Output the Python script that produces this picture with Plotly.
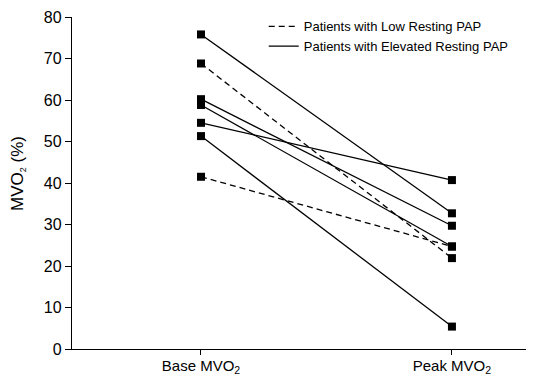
import plotly.graph_objects as go

categories = ["Base MVO<sub>2</sub>", "Peak MVO<sub>2</sub>"]
low_pap = [[68.8, 21.9], [41.5, 24.7]]
elevated_pap = [[75.8, 32.7], [60.2, 29.7], [58.8, 24.7], [54.5, 40.7], [51.3, 5.4]]
legend_names = ["Patients with Low Resting PAP", "Patients with Elevated Resting PAP"]
y_ticks = [0, 10, 20, 30, 40, 50, 60, 70, 80]
y_title = "MVO<sub><span style='font-size:9px'>2</span></sub> (%)"

fig = go.Figure()
for vals in low_pap:
    fig.add_trace(go.Scatter(x=categories, y=vals, mode="lines+markers", showlegend=False,
                             line=dict(color="black", width=1.3, dash="6px,4px"),
                             marker=dict(symbol="square", size=8, color="black")))
for vals in elevated_pap:
    fig.add_trace(go.Scatter(x=categories, y=vals, mode="lines+markers", showlegend=False,
                             line=dict(color="black", width=1.3),
                             marker=dict(symbol="square", size=8, color="black")))
fig.add_trace(go.Scatter(x=[None], y=[None], mode="lines", name=legend_names[0],
                         line=dict(color="black", width=1.3, dash="6px,4px")))
fig.add_trace(go.Scatter(x=[None], y=[None], mode="lines", name=legend_names[1],
                         line=dict(color="black", width=1.3)))

fig.add_annotation(text=y_title, xref="paper", yref="paper", x=-0.117, y=0.53,
                   textangle=-90, showarrow=False, font=dict(size=17),
                   xanchor="center", yanchor="middle")

fig.update_layout(
    width=526, height=369,
    margin=dict(l=64, r=0, t=9, b=28, autoexpand=False),
    paper_bgcolor="white", plot_bgcolor="white",
    font=dict(family="Liberation Sans, Arial, sans-serif", color="black"),
    legend=dict(x=0.415, y=1.017, xanchor="left", yanchor="top", bgcolor="rgba(0,0,0,0)",
                font=dict(size=13), itemwidth=30, tracegroupgap=0),
    xaxis=dict(type="category", range=[-0.514, 1.327], showline=True, linecolor="black",
               linewidth=1.3, ticks="outside", ticklen=5, tickcolor="black",
               tickfont=dict(size=15), showgrid=False, zeroline=False,
               ticklabelstandoff=-2, automargin=False),
    yaxis=dict(range=[0, 80], tickvals=y_ticks, showline=True, linecolor="black",
               linewidth=1.3, ticks="outside", ticklen=6, tickcolor="black",
               tickfont=dict(size=16), showgrid=False, zeroline=False, automargin=False),
)
fig.write_html("out.html")
